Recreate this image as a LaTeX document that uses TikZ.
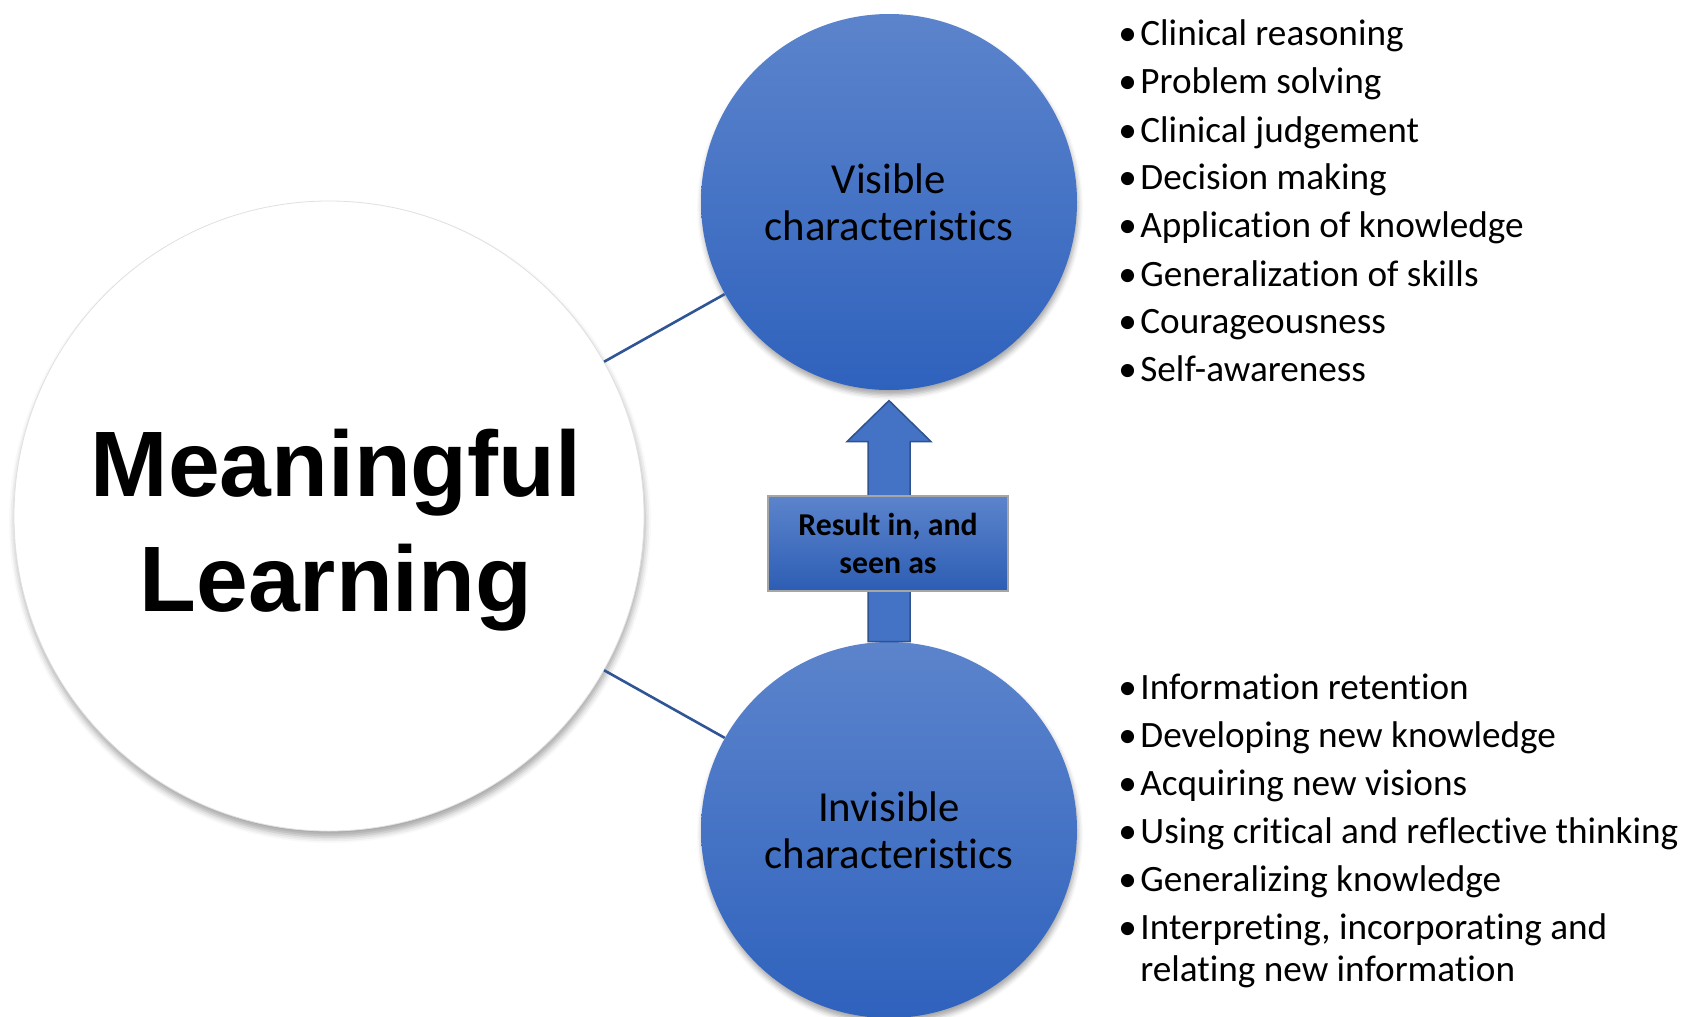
\documentclass[tikz,border=0pt]{standalone}
\usepackage{fontspec}
\setmainfont{Carlito}[Ligatures=NoCommon]
\newfontfamily\pixfont{Liberation Sans}
\usetikzlibrary{shadows.blur}
\definecolor{circtop}{HTML}{5C84CC}
\definecolor{circbot}{HTML}{2F62BD}
\definecolor{linkblue}{HTML}{2F5597}
\definecolor{arrowfill}{HTML}{4472C4}
\definecolor{arrowdraw}{HTML}{2F528F}
\begin{document}
\begin{tikzpicture}[
        x=0.5pt,y=-0.5pt,
        bigcirc/.style={circle,draw=black!12,fill=white,minimum size=315pt,inner sep=0pt,
            blur shadow={shadow xshift=0.5pt,shadow yshift=-3pt,shadow blur radius=3pt,shadow opacity=35}},
        bluecirc/.style={circle,top color=circtop,bottom color=circbot,minimum size=188pt,inner sep=0pt,
            align=center,font=\fontsize{21.4}{23.5}\selectfont,
            blur shadow={shadow xshift=0.5pt,shadow yshift=-2.5pt,shadow blur radius=2.5pt,shadow opacity=35}},
        pixtext/.style={align=center,inner sep=0pt,font=\pixfont\bfseries\fontsize{46.5}{57.5}\selectfont},
        link/.style={draw=linkblue,line width=1.3pt},
        bigarrow/.style={fill=arrowfill,draw=arrowdraw,line width=0.75pt,line join=miter},
        resbox/.style={draw=black!35,line width=0.6pt,top color=circtop,bottom color=circbot!95!black,
            minimum width=120pt,minimum height=47.5pt,inner sep=0pt,align=center,
            font=\bfseries\fontsize{15.9}{19}\selectfont},
        itemlist/.style={anchor=base west,inner sep=0pt,font=\fontsize{18.6}{24}\selectfont},
        ]
    \useasboundingbox (0,0) rectangle (1681,1017);
    % main circle
    \node[bigcirc] (ml) at (329,516) {};
    \node[pixtext] (mlt) at (336,530) {Meaningful\\Learning};
    % the two kinds of characteristics
    \node[bluecirc] (vis) at (889,202) {Visible\\characteristics};
    \node[bluecirc] (inv) at (889,830) {Invisible\\characteristics};
    \draw[link] (ml) -- (vis);
    \draw[link] (ml) -- (inv);
    % block arrow from invisible up to visible
    \draw[bigarrow] ([xshift=-10.5pt]inv.north) -- ++(0,-200) -- ++(-21,0)
        -- ++(42,-41) -- ++(42,41) -- ++(-21,0) -- ++(0,200) -- cycle;
    \node[resbox] (res) at (888,543.5) {Result in, and\\seen as};
    % lists
    \node[itemlist] (vlist) at (1118,46) {%
        \begin{tabular}[t]{@{}p{11pt}@{}l@{}}
        \textbullet & Clinical reasoning\\
        \textbullet & Problem solving\\
        \textbullet & Clinical judgement\\
        \textbullet & Decision making\\
        \textbullet & Application of knowledge\\
        \textbullet & Generalization of skills\\
        \textbullet & Courageousness\\
        \textbullet & Self-awareness
        \end{tabular}};
    \node[itemlist] (ilist) at (1118,699) {%
        \begin{tabular}[t]{@{}p{11pt}@{}l@{}}
        \textbullet & Information retention\\
        \textbullet & Developing new knowledge\\
        \textbullet & Acquiring new visions\\
        \textbullet & Using critical and reflective thinking\\
        \textbullet & Generalizing knowledge\\
        \textbullet & Interpreting, incorporating and\\[-3pt]
                    & relating new information
        \end{tabular}};
\end{tikzpicture}
\end{document}
